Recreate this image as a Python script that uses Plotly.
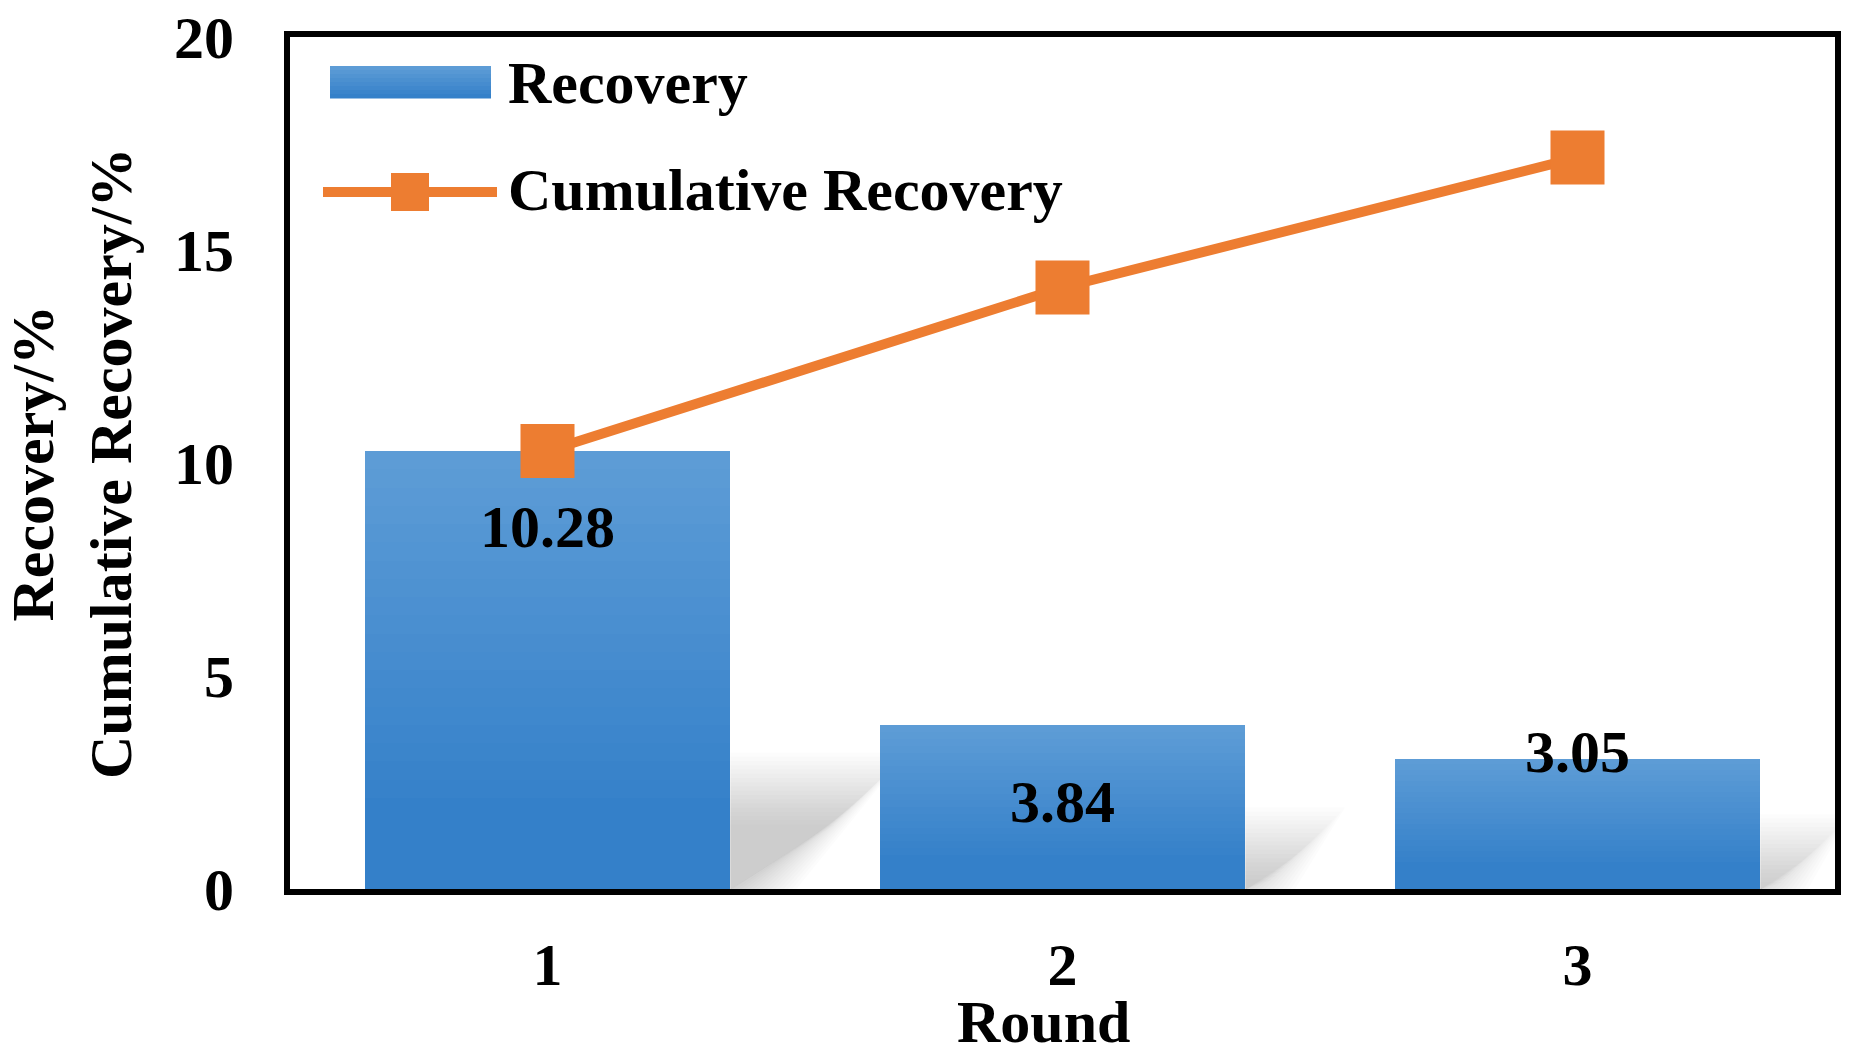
import plotly.graph_objects as go

rounds = [1, 2, 3]
round_labels = ["1", "2", "3"]
recovery = [10.28, 3.84, 3.05]
cumulative = [10.28, 14.12, 17.17]
label_texts = ["10.28", "3.84", "3.05"]
label_shift = [-76, -77, 7]
y_ticks = [0, 5, 10, 15, 20]

FONT = "Liberation Serif, Times New Roman, serif"
ORANGE = "#ED7D31"
TOP = (93, 156, 214)
BOT = (52, 128, 201)

W, H = 1859, 1055
ML, MR, MT, MB = 290, 24, 37, 166
PW, PH = W - ML - MR, H - MT - MB
XU = 3.0 / PW      # x data units per pixel
YU = 20.0 / PH     # y data units per pixel


def px(x):
    return (x - ML) / PW


def py(y):
    return (H - MB - y) / PH


def mix(t):
    r = [round(TOP[i] + (BOT[i] - TOP[i]) * t) for i in range(3)]
    return "rgb(%d,%d,%d)" % tuple(r)


fig = go.Figure()
BAR_W = 0.71
N = 24
for k in range(N):
    frac = 1 - k / N
    fig.add_trace(go.Bar(
        x=rounds, y=[v * frac for v in recovery], width=BAR_W,
        marker=dict(color=mix(min(1.0, k / (N * 0.8))), line=dict(width=0)),
        showlegend=False, hoverinfo="skip"))

fig.add_trace(go.Scatter(
    x=rounds, y=cumulative, mode="lines+markers",
    line=dict(color=ORANGE, width=10),
    marker=dict(symbol="square", size=54, color=ORANGE),
    showlegend=False, hoverinfo="skip"))

shapes = []
# soft blurred shadows to the right of each bar, derived from the bar values
L = 18
for xr, v in zip(rounds, recovery):
    xe = xr + BAR_W / 2
    hs_px = (0.2 * v + 0.3) / YU
    top_w = 1.4 * hs_px
    bot_w = 0.3 * hs_px
    for j in range(L):
        pad = 36 - 72 * j / (L - 1)
        h = hs_px + pad
        if h < 3:
            continue
        tw = max(top_w + pad, 2)
        bw = max(bot_w + pad, 1)
        shapes.append(dict(
            type="path", xref="x", yref="y", layer="below",
            path="M %f,0 L %f,%f L %f,%f L %f,0 Z" % (
                xe, xe, h * YU, xe + tw * XU, h * YU, xe + bw * XU),
            fillcolor="rgba(110,110,110,0.024)", line=dict(width=0)))

# legend: gradient rectangle
nstrip = 8
y_top, y_bot = 66, 98
for i in range(nstrip):
    a = y_top + (y_bot - y_top) * i / nstrip
    b = y_top + (y_bot - y_top) * (i + 1) / nstrip + 0.5
    shapes.append(dict(type="rect", xref="paper", yref="paper",
                       x0=px(330), x1=px(491), y0=py(b), y1=py(a),
                       fillcolor=mix(i / (nstrip - 1)), line=dict(width=0)))
shapes.append(dict(type="line", xref="paper", yref="paper",
                   x0=px(323), x1=px(497), y0=py(192), y1=py(192),
                   line=dict(color=ORANGE, width=10)))
shapes.append(dict(type="rect", xref="paper", yref="paper",
                   x0=px(391), x1=px(429), y0=py(211), y1=py(173),
                   fillcolor=ORANGE, line=dict(width=0)))

font_big = dict(family=FONT, size=60, color="black", weight="bold")
annotations = []
for xr, v, t, s in zip(rounds, recovery, label_texts, label_shift):
    annotations.append(dict(x=xr, y=v, xref="x", yref="y", text=t,
                            showarrow=False, yshift=s, font=font_big,
                            xanchor="center", yanchor="middle"))
annotations.append(dict(x=px(506), y=py(83), xref="paper", yref="paper",
                        text="Recovery", showarrow=False, font=font_big,
                        xanchor="left", yanchor="middle"))
annotations.append(dict(x=px(506), y=py(190), xref="paper", yref="paper",
                        text="Cumulative Recovery", showarrow=False, font=font_big,
                        xanchor="left", yanchor="middle"))
annotations.append(dict(x=px(72), y=0.5, xref="paper", yref="paper",
                        text="Recovery/%<br>Cumulative Recovery/%", textangle=-90,
                        showarrow=False, font=font_big,
                        xanchor="center", yanchor="middle"))
annotations.append(dict(x=px(1043), y=py(1022), xref="paper", yref="paper",
                        text="Round", showarrow=False, font=font_big,
                        xanchor="center", yanchor="middle"))

fig.update_layout(
    width=W, height=H, barmode="overlay", bargap=0,
    margin=dict(l=ML, r=MR, t=MT, b=MB, autoexpand=False),
    paper_bgcolor="white", plot_bgcolor="white",
    font=font_big, shapes=shapes, annotations=annotations,
    xaxis=dict(range=[0.5, 3.5], tickvals=rounds, ticktext=round_labels,
               showgrid=False, zeroline=False, showline=True, mirror=True,
               linecolor="black", linewidth=6, ticks="", ticklabelstandoff=18,
               tickfont=font_big),
    yaxis=dict(range=[0, 20], tickvals=y_ticks, showgrid=False, zeroline=False,
               showline=True, mirror=True, linecolor="black", linewidth=6,
               ticks="", ticklabelstandoff=38, tickfont=font_big),
)

fig.write_html("out.html", config={"displayModeBar": False},
               post_script="document.body.style.margin='0';document.body.style.overflow='hidden';")
